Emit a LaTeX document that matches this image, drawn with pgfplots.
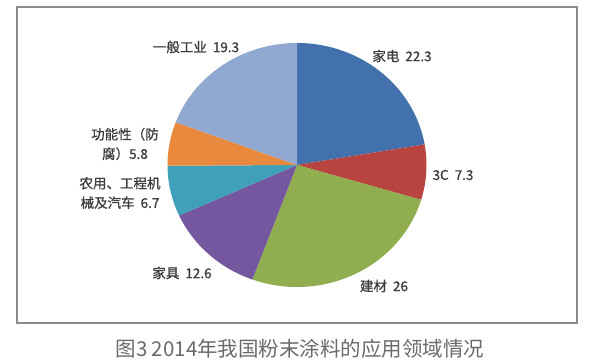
\documentclass[border=0pt]{standalone}
\usepackage{pgfplots}
\pgfplotsset{compat=1.18}
\usepackage{fontspec}
\setmainfont{Noto Sans CJK SC}
\newfontfamily\labfont[FakeBold=0.8]{Noto Sans CJK SC}
\definecolor{cJD}{HTML}{4271AE}
\definecolor{c3C}{HTML}{B8433F}
\definecolor{cJC}{HTML}{90AD50}
\definecolor{cJJ}{HTML}{74579E}
\definecolor{cNY}{HTML}{40A0BA}
\definecolor{cGN}{HTML}{E8893D}
\definecolor{cYB}{HTML}{91A9D1}
\definecolor{lab}{HTML}{3A3A3A}
\definecolor{cap}{HTML}{6A6A6A}
\newcommand\gap{\hspace{6pt}}
\begin{document}
\begin{tikzpicture}
\useasboundingbox (0,0) rectangle (606pt,363pt);
\begin{axis}[scale only axis, width=606pt, height=363pt,
  xmin=0, xmax=606, ymin=0, ymax=363, hide axis, clip=false]
% values: 22.3, 7.3, 26, 12.6, 6.7, 5.8, 19.3 (percent), clockwise from top
\addplot[fill=cJD, draw=none, domain={90-3.6*22.3}:{90}, samples=80, variable=\t]
  ({297+129.5*cos(t)},{198+122*sin(t)}) -- (axis cs:297,198) -- cycle;
\addplot[fill=c3C, draw=none, domain={90-3.6*(22.3+7.3)}:{90-3.6*22.3}, samples=40, variable=\t]
  ({297+129.5*cos(t)},{198+122*sin(t)}) -- (axis cs:297,198) -- cycle;
\addplot[fill=cJC, draw=none, domain={90-3.6*(29.6+26)}:{90-3.6*29.6}, samples=80, variable=\t]
  ({297+129.5*cos(t)},{198+122*sin(t)}) -- (axis cs:297,198) -- cycle;
\addplot[fill=cJJ, draw=none, domain={90-3.6*(55.6+12.6)}:{90-3.6*55.6}, samples=60, variable=\t]
  ({297+129.5*cos(t)},{198+122*sin(t)}) -- (axis cs:297,198) -- cycle;
\addplot[fill=cNY, draw=none, domain={90-3.6*(68.2+6.7)}:{90-3.6*68.2}, samples=40, variable=\t]
  ({297+129.5*cos(t)},{198+122*sin(t)}) -- (axis cs:297,198) -- cycle;
\addplot[fill=cGN, draw=none, domain={90-3.6*(74.9+5.8)}:{90-3.6*74.9}, samples=40, variable=\t]
  ({297+129.5*cos(t)},{198+122*sin(t)}) -- (axis cs:297,198) -- cycle;
\addplot[fill=cYB, draw=none, domain={90-3.6*(80.7+19.3)}:{90-3.6*80.7}, samples=80, variable=\t]
  ({297+129.5*cos(t)},{198+122*sin(t)}) -- (axis cs:297,198) -- cycle;
% frame
\draw[color=black!45, line width=1.5pt] (axis cs:17,356) rectangle (axis cs:577,40);
% labels
\begin{scope}[every node/.style={font=\labfont\fontsize{13.5}{19.5}\selectfont, text=lab, inner sep=0pt, align=center}]
\node at (axis cs:402,307) {家电\gap 22.3};
\node at (axis cs:453,188) {3C\gap 7.3};
\node at (axis cs:384,77) {建材\gap 26};
\node at (axis cs:182,90) {家具\gap 12.6};
\node at (axis cs:120,170) {农用、工程机\\械及汽车\gap 6.7};
\node at (axis cs:125,219) {功能性（防\\腐）5.8};
\node at (axis cs:196,316) {一般工业\gap 19.3};
\end{scope}
\node[font=\fontsize{20.5}{24}\selectfont, text=cap, inner sep=0pt] at (axis cs:300,14) {图3 2014年我国粉末涂料的应用领域情况};
\end{axis}
\end{tikzpicture}
\end{document}
